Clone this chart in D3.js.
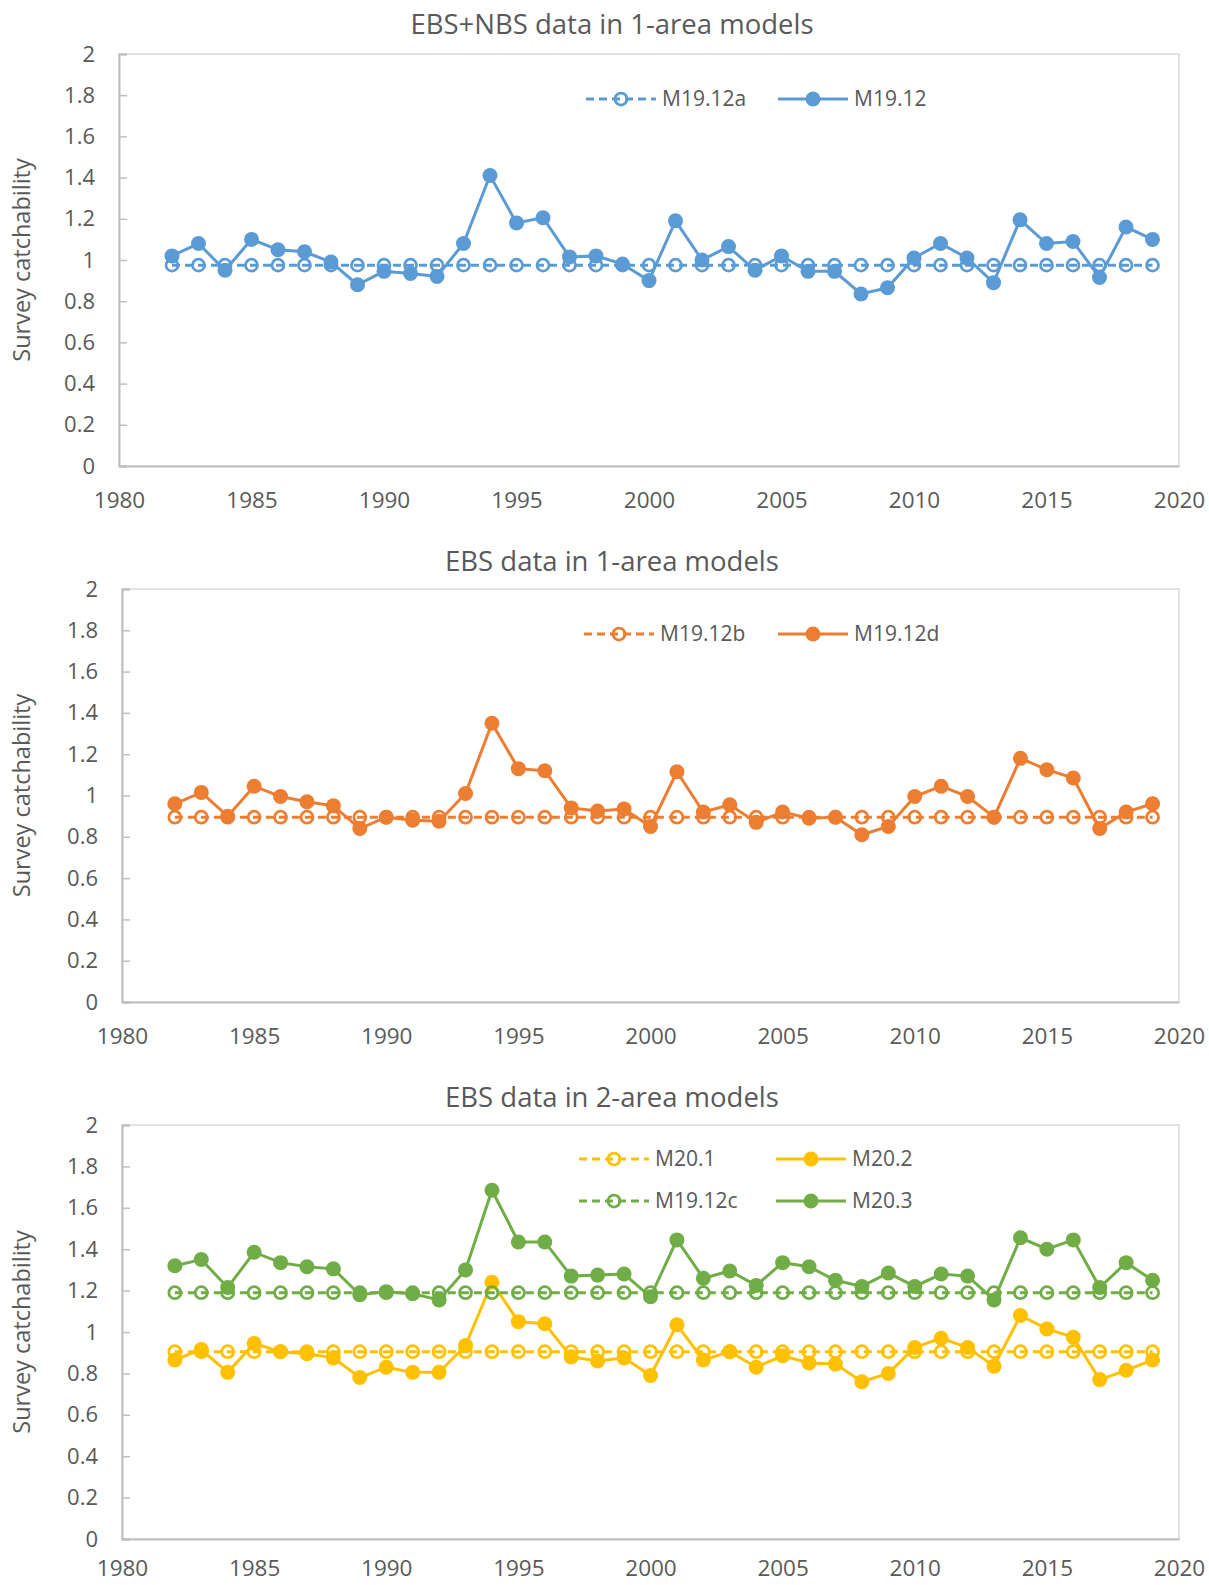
<!DOCTYPE html>
<html>
<head>
<meta charset="utf-8">
<script src="https://cdn.jsdelivr.net/npm/d3@7"></script>
<style>
  body { margin: 0; background: #fff; }
  text { font-family: "Open Sans", sans-serif; fill: #595959; }
</style>
</head>
<body>
<div id="chart"></div>
<script>
// years shared by all panels
const years = d3.range(1982, 2020);

const yTicks = [0, 0.2, 0.4, 0.6, 0.8, 1, 1.2, 1.4, 1.6, 1.8, 2];
const xTicks = [1980, 1985, 1990, 1995, 2000, 2005, 2010, 2015, 2020];

// panel 1: EBS+NBS, 1-area
const m1912a = years.map(() => 0.975);
const m1912 = [1.02, 1.08, 0.95, 1.10, 1.05, 1.04, 0.99, 0.88, 0.945, 0.935, 0.92, 1.08, 1.41, 1.18, 1.205,
  1.015, 1.02, 0.98, 0.90, 1.19, 1.0, 1.065, 0.95, 1.02, 0.945, 0.945, 0.835, 0.865, 1.01, 1.08, 1.01, 0.89,
  1.195, 1.08, 1.09, 0.915, 1.16, 1.10];

// panel 2: EBS, 1-area
const m1912b = years.map(() => 0.895);
const m1912d = [0.96, 1.015, 0.90, 1.045, 0.995, 0.97, 0.95, 0.84, 0.895, 0.88, 0.875, 1.01, 1.35, 1.13, 1.12,
  0.94, 0.925, 0.935, 0.85, 1.115, 0.92, 0.955, 0.87, 0.92, 0.89, 0.895, 0.81, 0.85, 0.995, 1.045, 0.995, 0.895,
  1.18, 1.125, 1.085, 0.84, 0.92, 0.96];

// panel 3: EBS, 2-area
const m201 = years.map(() => 0.905);
const m1912c = years.map(() => 1.19);
const m202 = [0.865, 0.915, 0.805, 0.945, 0.905, 0.895, 0.875, 0.78, 0.83, 0.805, 0.805, 0.935, 1.24, 1.05, 1.04,
  0.88, 0.86, 0.875, 0.79, 1.035, 0.865, 0.905, 0.83, 0.885, 0.85, 0.845, 0.76, 0.80, 0.925, 0.97, 0.925, 0.835,
  1.08, 1.015, 0.975, 0.77, 0.815, 0.865];
const m203 = [1.32, 1.35, 1.215, 1.385, 1.335, 1.315, 1.305, 1.18, 1.195, 1.185, 1.155, 1.30, 1.685, 1.435, 1.435,
  1.27, 1.275, 1.28, 1.17, 1.445, 1.26, 1.295, 1.225, 1.335, 1.315, 1.25, 1.22, 1.285, 1.22, 1.28, 1.27, 1.155,
  1.455, 1.40, 1.445, 1.215, 1.335, 1.25];

const BLUE = "#5B9BD5", ORANGE = "#ED7D31", YELLOW = "#FFC000", GREEN = "#70AD47";

const panels = [
  { title: "EBS+NBS data in 1-area models", top: 54, bottom: 466, left: 119, titleY: 34, xPad: 26,
    series: [
      { name: "M19.12a", values: m1912a, color: BLUE, dashed: true, lx: 586, ly: 99 },
      { name: "M19.12", values: m1912, color: BLUE, dashed: false, lx: 778, ly: 99 }
    ] },
  { title: "EBS data in 1-area models", top: 589, bottom: 1002, left: 122, titleY: 571, xPad: 26,
    series: [
      { name: "M19.12b", values: m1912b, color: ORANGE, dashed: true, lx: 584, ly: 634 },
      { name: "M19.12d", values: m1912d, color: ORANGE, dashed: false, lx: 778, ly: 634 }
    ] },
  // bottom labels sit a little higher so they stay inside the page
  { title: "EBS data in 2-area models", top: 1125, bottom: 1539, left: 122, titleY: 1107, xPad: 21,
    series: [
      { name: "M20.1", values: m201, color: YELLOW, dashed: true, lx: 579, ly: 1159 },
      { name: "M20.2", values: m202, color: YELLOW, dashed: false, lx: 776, ly: 1159 },
      { name: "M19.12c", values: m1912c, color: GREEN, dashed: true, lx: 579, ly: 1201 },
      { name: "M20.3", values: m203, color: GREEN, dashed: false, lx: 776, ly: 1201 }
    ] }
];

const svg = d3.select("#chart").append("svg")
  .attr("width", 1209)
  .attr("height", 1585);

function drawMarker(g, x, y, s) {
  g.append("circle")
    .attr("cx", x).attr("cy", y)
    .attr("r", s.dashed ? 6 : 7.5)
    .attr("fill", s.dashed ? "none" : s.color)
    .attr("stroke", s.color)
    .attr("stroke-width", s.dashed ? 2.75 : 0);
}

function drawPanel(p) {
  const right = 1179;
  const x = d3.scaleLinear().domain([1980, 2020]).range([p.left, right]);
  const y = d3.scaleLinear().domain([0, 2]).range([p.bottom, p.top]);

  const g = svg.append("g");

  // plot area border
  g.append("rect")
    .attr("x", p.left).attr("y", p.top)
    .attr("width", right - p.left).attr("height", p.bottom - p.top)
    .attr("fill", "none")
    .attr("stroke", "#d9d9d9")
    .attr("stroke-width", 1.5);

  const yAxis = d3.axisLeft(y).tickValues(yTicks).tickSize(-8).tickPadding(24)
    .tickFormat(d => String(+d.toFixed(1)));
  const ya = g.append("g").attr("transform", "translate(" + p.left + ",0)").call(yAxis);
  ya.select(".domain").attr("stroke", "#bfbfbf").attr("stroke-width", 2);
  ya.selectAll(".tick line").attr("stroke", "#bfbfbf").attr("stroke-width", 1.5);
  ya.selectAll(".tick text").style("font-size", "22px").attr("fill", "#595959");

  const xAxis = d3.axisBottom(x).tickValues(xTicks).tickSize(0).tickPadding(p.xPad)
    .tickFormat(d3.format("d"));
  const xa = g.append("g").attr("transform", "translate(0," + p.bottom + ")").call(xAxis);
  xa.select(".domain").attr("stroke", "#bfbfbf").attr("stroke-width", 2);
  xa.selectAll(".tick text").style("font-size", "22.5px").attr("fill", "#595959");

  g.append("text")
    .attr("x", 612).attr("y", p.titleY)
    .attr("text-anchor", "middle")
    .style("font-size", "27.5px")
    .text(p.title);

  g.append("text")
    .attr("transform", "translate(30," + ((p.top + p.bottom) / 2) + ") rotate(-90)")
    .attr("text-anchor", "middle")
    .style("font-size", "23.5px")
    .text("Survey catchability");

  const line = d3.line().x((d, i) => x(years[i])).y(d => y(d));

  p.series.forEach(s => {
    g.append("path")
      .datum(s.values)
      .attr("d", line)
      .attr("fill", "none")
      .attr("stroke", s.color)
      .attr("stroke-width", 3)
      .attr("stroke-dasharray", s.dashed ? "8,5" : null);

    const mg = g.append("g");
    s.values.forEach((v, i) => drawMarker(mg, x(years[i]), y(v), s));

    // legend entry
    const lg = g.append("g");
    lg.append("line")
      .attr("x1", s.lx).attr("x2", s.lx + 70)
      .attr("y1", s.ly).attr("y2", s.ly)
      .attr("stroke", s.color).attr("stroke-width", 3)
      .attr("stroke-dasharray", s.dashed ? "8,5" : null);
    drawMarker(lg, s.lx + 35, s.ly, s);
    lg.append("text")
      .attr("x", s.lx + 76).attr("y", s.ly + 7)
      .style("font-size", "21px")
      .text(s.name);
  });
}

panels.forEach(drawPanel);
</script>
</body>
</html>
